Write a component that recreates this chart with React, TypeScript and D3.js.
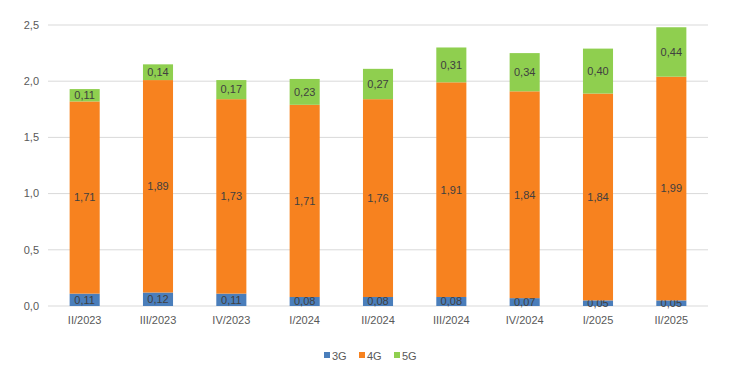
import React, { useEffect, useRef } from 'react'
import * as d3 from 'd3'

const categories = ['II/2023', 'III/2023', 'IV/2023', 'I/2024', 'II/2024', 'III/2024', 'IV/2024', 'I/2025', 'II/2025']
const g3 = [0.11, 0.12, 0.11, 0.08, 0.08, 0.08, 0.07, 0.05, 0.05]
const g4 = [1.71, 1.89, 1.73, 1.71, 1.76, 1.91, 1.84, 1.84, 1.99]
const g5 = [0.11, 0.14, 0.17, 0.23, 0.27, 0.31, 0.34, 0.40, 0.44]
const seriesNames = ['3G', '4G', '5G']
const colors = ['#4a7ebb', '#f7821f', '#8fcf4f']
const yTicks = [0, 0.5, 1, 1.5, 2, 2.5]

const width = 733
const height = 372

const App: React.FC = () => {
  const svgRef = useRef<SVGSVGElement>(null)

  useEffect(() => {
    const svg = d3.select(svgRef.current)
    svg.selectAll('*').remove()

    const font = 'Liberation Sans, Arial, sans-serif'
    const left = 48
    const right = 708
    const top = 25
    const bottom = 306

    const rows = categories.map((c, i) => ({ cat: c, '3G': g3[i], '4G': g4[i], '5G': g5[i] }))
    const stacked = d3.stack<any>().keys(seriesNames)(rows)

    const x = d3.scaleBand().domain(categories).range([left, right]).paddingInner(0.59).paddingOuter(0.295)
    const y = d3.scaleLinear().domain([0, 2.5]).range([bottom, top])

    // gridlines
    svg.append('g')
      .selectAll('line')
      .data(yTicks)
      .enter()
      .append('line')
      .attr('x1', left)
      .attr('x2', right)
      .attr('y1', d => y(d))
      .attr('y2', d => y(d))
      .attr('stroke', '#d9d9d9')
      .attr('stroke-width', 1)

    // y labels
    svg.append('g')
      .selectAll('text')
      .data(yTicks)
      .enter()
      .append('text')
      .attr('x', 39)
      .attr('y', d => y(d))
      .attr('dy', '0.35em')
      .attr('text-anchor', 'end')
      .attr('font-family', font)
      .attr('font-size', 11)
      .attr('fill', '#595959')
      .text(d => d.toFixed(1).replace('.', ','))

    // bars
    stacked.forEach((s, si) => {
      const g = svg.append('g')
      g.selectAll('rect')
        .data(s)
        .enter()
        .append('rect')
        .attr('x', (d: any) => x(d.data.cat)!)
        .attr('width', x.bandwidth())
        .attr('y', d => y(d[1]))
        .attr('height', d => y(d[0]) - y(d[1]))
        .attr('fill', colors[si])

      g.selectAll('text')
        .data(s)
        .enter()
        .append('text')
        .attr('x', (d: any) => x(d.data.cat)! + x.bandwidth() / 2)
        .attr('y', d => (y(d[0]) + y(d[1])) / 2)
        .attr('dy', '0.35em')
        .attr('text-anchor', 'middle')
        .attr('font-family', font)
        .attr('font-size', 11)
        .attr('fill', '#404040')
        .text(d => (d[1] - d[0]).toFixed(2).replace('.', ','))
    })

    // category labels
    svg.append('g')
      .selectAll('text')
      .data(categories)
      .enter()
      .append('text')
      .attr('x', d => x(d)! + x.bandwidth() / 2)
      .attr('y', 324)
      .attr('text-anchor', 'middle')
      .attr('font-family', font)
      .attr('font-size', 11)
      .attr('fill', '#595959')
      .text(d => d)

    // legend
    const legend = svg.append('g').attr('transform', 'translate(324, 356)')
    seriesNames.forEach((n, i) => {
      const lg = legend.append('g').attr('transform', `translate(${i * 35}, 0)`)
      lg.append('rect')
        .attr('x', 0)
        .attr('y', -4)
        .attr('width', 6)
        .attr('height', 6)
        .attr('fill', colors[i])
      lg.append('text')
        .attr('x', 8)
        .attr('y', 0)
        .attr('dy', '0.35em')
        .attr('font-family', font)
        .attr('font-size', 11)
        .attr('fill', '#595959')
        .text(n)
    })
  }, [])

  return (
    <svg ref={svgRef} width={width} height={height} style={{ position: 'absolute', left: 0, top: 0 }}></svg>
  )
}

export default App
